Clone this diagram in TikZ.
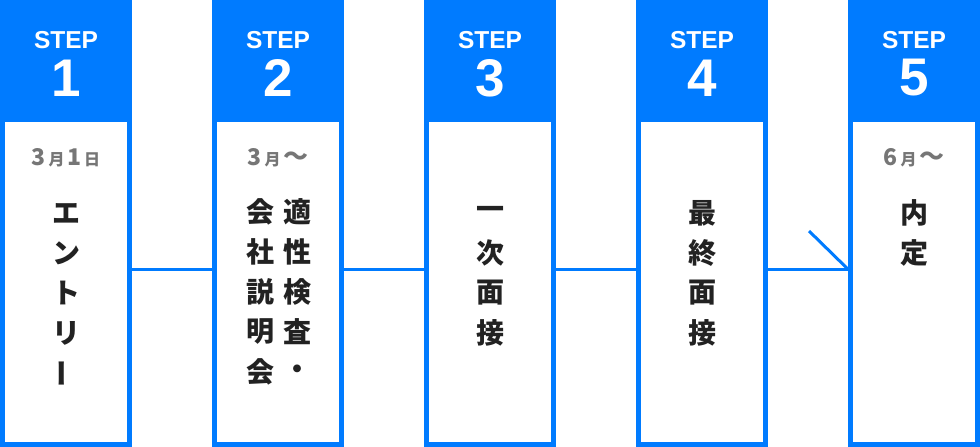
\documentclass[tikz,border=0pt]{standalone}
\usepackage{fontspec}
\setmainfont{Liberation Sans}
\newfontfamily\jp{Noto Sans CJK JP}
\usepackage{xcolor}
\usetikzlibrary{positioning}
\definecolor{stepblue}{RGB}{0,123,255}
\definecolor{dategray}{RGB}{118,118,118}
\definecolor{inkblack}{RGB}{34,34,34}
\newcommand{\mo}{{\fontsize{16}{16}\selectfont\,月\,}}
\newcommand{\dy}{{\fontsize{16}{16}\selectfont\,日}}
\newcommand{\wave}{{\fontsize{25}{25}\selectfont 〜}}

\begin{document}
\begin{tikzpicture}[
    x=1pt, y=-1pt,
    % styles for the five step columns
    stepcol/.style = {rectangle, fill=stepblue, minimum width=132pt, minimum height=447pt, inner sep=0pt},
    card/.style = {rectangle, fill=white, minimum width=122pt, minimum height=320pt, inner sep=0pt},
    steplbl/.style = {text=white, font=\bfseries\fontsize{24.5}{24.5}\selectfont, inner sep=0pt},
    stepnum/.style = {text=white, font=\bfseries\fontsize{53}{53}\selectfont, inner sep=0pt},
    datelbl/.style = {text=dategray, font=\jp\bfseries\fontsize{23}{23}\selectfont, inner sep=0pt},
    char/.style = {text=inkblack, font=\jp\bfseries\fontsize{28}{28}\selectfont, inner sep=0pt},
    conn/.style = {draw=stepblue, line width=3pt}
]
    \useasboundingbox (0,0) rectangle (980,447);

    % 1. Columns: blue frame, white card, STEP and number
    \foreach \i/\x in {1/0, 2/212, 3/424, 4/636, 5/848} {
        \node (step\i) [stepcol] at (\x+66, 223.5) {};
        \node (card\i) [card]    at (\x+66, 282) {};
        \node (lbl\i)  [steplbl] at (\x+66, 40) {STEP};
        \node (num\i)  [stepnum] at (\x+66, 78) {\i};
    }

    % 2. Connectors between the columns
    \coordinate (lvl) at (0,269);
    \coordinate (tick) at (809,231);
    \foreach \a/\b in {1/2, 2/3, 3/4, 4/5}
        \draw [conn] (step\a.east |- lvl) -- (step\b.west |- lvl);
    \draw [conn] (tick) -- (step5.west |- lvl);

    % 3. Dates
    \node (date1) [datelbl] at (66, 158) {3\mo 1\dy};
    \node (date2) [datelbl] at (278, 158) {3\mo\wave};
    \node (date5) [datelbl] at (914, 158) {6\mo\wave};

    % 4. Vertical text, one character per row
    \foreach \c [count=\j] in {エ,ン,ト,リ}
        \node (ta\j) [char] at (66, 173+40*\j) {\c};
    \node (ta5) [char, rotate=90] at (66, 373) {ー};
    \foreach \c [count=\j] in {適,性,検,査,・}
        \node (tb\j) [char] at (297, 172+40*\j) {\c};
    \foreach \c [count=\j] in {会,社,説,明,会}
        \node (tc\j) [char] at (260, 172+40*\j) {\c};
    \foreach \c [count=\j] in {一,次,面,接}
        \node (td\j) [char] at (490, 173+40*\j) {\c};
    \foreach \c [count=\j] in {最,終,面,接}
        \node (te\j) [char] at (702, 173+40*\j) {\c};
    \foreach \c [count=\j] in {内,定}
        \node (tf\j) [char] at (914, 173+40*\j) {\c};

\end{tikzpicture}
\end{document}
